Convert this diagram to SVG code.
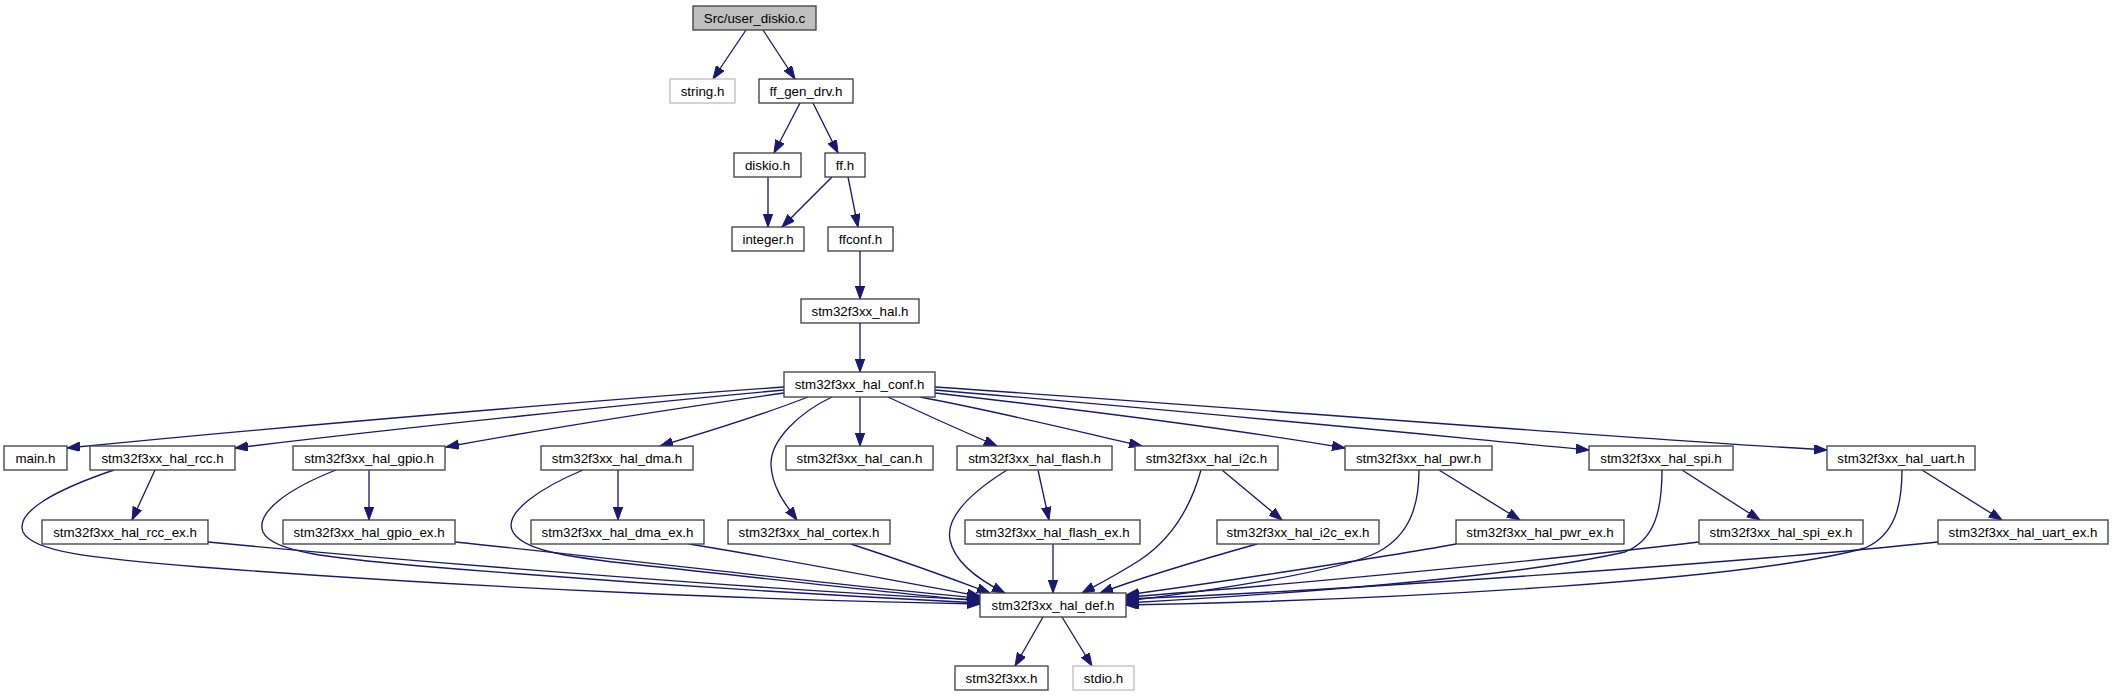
<svg xmlns="http://www.w3.org/2000/svg" width="2114" height="696" viewBox="0 0 2114 696">
<style>
  .n rect { fill: #ffffff; stroke: #404040; stroke-width: 1.33; }
  .n.g rect { stroke: #bfbfbf; }
  .n.root rect { fill: #bfbfbf; stroke: #404040; }
  .n text { font-family: "Liberation Sans", Arial, sans-serif; font-size: 13.33px; fill: #000; text-anchor: middle; }
  .e path { fill: none; stroke: #191970; stroke-width: 1.33; marker-end: url(#arr); }
</style>
<defs>
  <marker id="arr" markerUnits="userSpaceOnUse" markerWidth="14" markerHeight="10" refX="13" refY="4.7" orient="auto">
    <path d="M0,0 L13,4.7 L0,9.4 z" fill="#191970" stroke="#191970" stroke-width="1"/>
  </marker>
</defs>
<rect x="0" y="0" width="2114" height="696" fill="#ffffff"/>
<g id="connectors" class="e">
  <path d="M746,30 L713,79"/>
  <path d="M763,30 L795,79"/>
  <path d="M800,103 L774,153"/>
  <path d="M813,103 L838,153"/>
  <path d="M768,177 L768,227"/>
  <path d="M832,177 L782,227"/>
  <path d="M848,177 L858,227"/>
  <path d="M860,251 L860,299"/>
  <path d="M860,323 L860,372"/>
  <path d="M784,387 C 600,400 300,425 67,448"/>
  <path d="M784,390 C 650,402 400,428 235,448"/>
  <path d="M784,393 C 700,405 550,428 446,447"/>
  <path d="M808,397 C 770,412 720,428 660,446"/>
  <path d="M832,397 C 800,412 770,440 771,465 C 772,488 786,505 797,520"/>
  <path d="M860,397 L860,446"/>
  <path d="M888,397 C 920,412 960,430 997,446"/>
  <path d="M920,397 C 1000,412 1080,432 1142,446"/>
  <path d="M935,393 C 1100,412 1250,432 1345,448"/>
  <path d="M935,390 C 1200,412 1450,437 1589,450"/>
  <path d="M935,387 C 1300,412 1600,437 1827,450"/>
  <path d="M155,470 L132,520"/>
  <path d="M369,470 L369,520"/>
  <path d="M618,470 L618,520"/>
  <path d="M1038,470 L1049,520"/>
  <path d="M1222,470 L1282,520"/>
  <path d="M1439,470 L1520,520"/>
  <path d="M1682,470 L1760,520"/>
  <path d="M1922,470 L2002,520"/>
  <path d="M114,470 C 55,490 15,512 23,532 C 33,552 90,558 200,567 C 500,590 800,601 980,604"/>
  <path d="M336,470 C 290,488 255,512 263,532 C 272,552 330,558 420,566 C 650,585 880,598 980,603"/>
  <path d="M583,470 C 540,488 505,512 512,530 C 520,550 565,557 640,565 C 780,580 900,594 980,601"/>
  <path d="M208,542 C 450,565 800,592 980,600"/>
  <path d="M455,542 C 650,562 850,587 980,598"/>
  <path d="M689,544 C 800,562 900,582 980,596"/>
  <path d="M851,544 C 900,560 950,578 990,593"/>
  <path d="M1007,470 C 975,490 945,515 950,540 C 955,565 985,583 1005,593"/>
  <path d="M1053,544 L1053,593"/>
  <path d="M1201,470 C 1190,510 1170,540 1140,560 C 1115,576 1095,586 1082,593"/>
  <path d="M1257,544 C 1200,560 1140,578 1100,593"/>
  <path d="M1456,544 C 1380,558 1200,585 1126,595"/>
  <path d="M1699,542 C 1550,560 1250,588 1126,597"/>
  <path d="M1938,542 C 1750,562 1350,590 1126,599"/>
  <path d="M1419,470 C 1419,505 1410,535 1378,552 C 1340,572 1200,592 1126,601"/>
  <path d="M1662,470 C 1662,510 1655,540 1625,552 C 1500,580 1250,596 1126,603"/>
  <path d="M1902,470 C 1902,505 1895,535 1865,548 C 1750,580 1400,600 1126,605"/>
  <path d="M1043,617 L1015,666"/>
  <path d="M1062,617 L1092,666"/>
</g>
<g id="src" class="n root"><rect x="693" y="6" width="123" height="24"/><text x="754.5" y="23">Src/user_diskio.c</text></g>
<g id="string_h" class="n g"><rect x="670" y="79" width="65" height="24"/><text x="702.5" y="96">string.h</text></g>
<g id="ff_gen_drv_h" class="n"><rect x="759" y="79" width="94" height="24"/><text x="806" y="96">ff_gen_drv.h</text></g>
<g id="diskio_h" class="n"><rect x="734" y="153" width="67" height="24"/><text x="767.5" y="170">diskio.h</text></g>
<g id="ff_h" class="n"><rect x="825" y="153" width="40" height="24"/><text x="845" y="170">ff.h</text></g>
<g id="integer_h" class="n"><rect x="732" y="227" width="72" height="24"/><text x="768" y="244">integer.h</text></g>
<g id="ffconf_h" class="n"><rect x="828" y="227" width="65" height="24"/><text x="860.5" y="244">ffconf.h</text></g>
<g id="hal_h" class="n"><rect x="801" y="299" width="118" height="24"/><text x="860" y="316">stm32f3xx_hal.h</text></g>
<g id="hal_conf_h" class="n"><rect x="784" y="372" width="151" height="25"/><text x="859.5" y="389">stm32f3xx_hal_conf.h</text></g>
<g id="main_h" class="n"><rect x="4" y="446" width="63" height="24"/><text x="35.5" y="463">main.h</text></g>
<g id="rcc_h" class="n"><rect x="90" y="446" width="145" height="24"/><text x="162.5" y="463">stm32f3xx_hal_rcc.h</text></g>
<g id="gpio_h" class="n"><rect x="293" y="446" width="152" height="24"/><text x="369" y="463">stm32f3xx_hal_gpio.h</text></g>
<g id="dma_h" class="n"><rect x="541" y="446" width="152" height="24"/><text x="617" y="463">stm32f3xx_hal_dma.h</text></g>
<g id="can_h" class="n"><rect x="786" y="446" width="147" height="24"/><text x="859.5" y="463">stm32f3xx_hal_can.h</text></g>
<g id="flash_h" class="n"><rect x="957" y="446" width="155" height="24"/><text x="1034.5" y="463">stm32f3xx_hal_flash.h</text></g>
<g id="i2c_h" class="n"><rect x="1135" y="446" width="143" height="24"/><text x="1206.5" y="463">stm32f3xx_hal_i2c.h</text></g>
<g id="pwr_h" class="n"><rect x="1345" y="446" width="147" height="24"/><text x="1418.5" y="463">stm32f3xx_hal_pwr.h</text></g>
<g id="spi_h" class="n"><rect x="1589" y="446" width="144" height="24"/><text x="1661" y="463">stm32f3xx_hal_spi.h</text></g>
<g id="uart_h" class="n"><rect x="1827" y="446" width="148" height="24"/><text x="1901" y="463">stm32f3xx_hal_uart.h</text></g>
<g id="rcc_ex_h" class="n"><rect x="42" y="520" width="166" height="24"/><text x="125" y="537">stm32f3xx_hal_rcc_ex.h</text></g>
<g id="gpio_ex_h" class="n"><rect x="283" y="520" width="172" height="24"/><text x="369" y="537">stm32f3xx_hal_gpio_ex.h</text></g>
<g id="dma_ex_h" class="n"><rect x="531" y="520" width="173" height="24"/><text x="617.5" y="537">stm32f3xx_hal_dma_ex.h</text></g>
<g id="cortex_h" class="n"><rect x="728" y="520" width="162" height="24"/><text x="809" y="537">stm32f3xx_hal_cortex.h</text></g>
<g id="flash_ex_h" class="n"><rect x="965" y="520" width="175" height="24"/><text x="1052.5" y="537">stm32f3xx_hal_flash_ex.h</text></g>
<g id="i2c_ex_h" class="n"><rect x="1217" y="520" width="162" height="24"/><text x="1298" y="537">stm32f3xx_hal_i2c_ex.h</text></g>
<g id="pwr_ex_h" class="n"><rect x="1456" y="520" width="168" height="24"/><text x="1540" y="537">stm32f3xx_hal_pwr_ex.h</text></g>
<g id="spi_ex_h" class="n"><rect x="1699" y="520" width="164" height="24"/><text x="1781" y="537">stm32f3xx_hal_spi_ex.h</text></g>
<g id="uart_ex_h" class="n"><rect x="1938" y="520" width="170" height="24"/><text x="2023" y="537">stm32f3xx_hal_uart_ex.h</text></g>
<g id="hal_def_h" class="n"><rect x="980" y="593" width="146" height="24"/><text x="1053" y="610">stm32f3xx_hal_def.h</text></g>
<g id="stm32f3xx_h" class="n"><rect x="955" y="666" width="93" height="24"/><text x="1001.5" y="683">stm32f3xx.h</text></g>
<g id="stdio_h" class="n g"><rect x="1073" y="666" width="61" height="24"/><text x="1103.5" y="683">stdio.h</text></g>
</svg>
